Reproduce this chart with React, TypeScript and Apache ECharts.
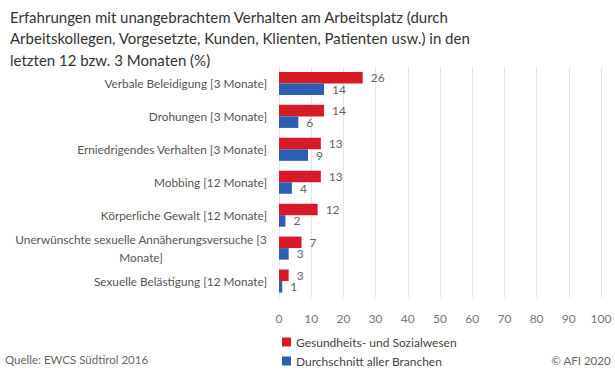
import React, { useEffect, useRef } from "react";
import * as echarts from "echarts";

const titleLines = [
  "Erfahrungen mit unangebrachtem Verhalten am Arbeitsplatz (durch",
  "Arbeitskollegen, Vorgesetzte, Kunden, Klienten, Patienten usw.) in den",
  "letzten 12 bzw. 3 Monaten (%)",
];
const categories = [
  "Verbale Beleidigung [3 Monate]",
  "Drohungen [3 Monate]",
  "Erniedrigendes Verhalten [3 Monate]",
  "Mobbing [12 Monate]",
  "Körperliche Gewalt [12 Monate]",
  "Unerwünschte sexuelle Annäherungsversuche [3\nMonate]",
  "Sexuelle Belästigung [12 Monate]",
];
const seriesNames = ["Gesundheits- und Sozialwesen", "Durchschnitt aller Branchen"];
const gesundheit = [26, 14, 13, 13, 12, 7, 3];
const durchschnitt = [14, 6, 9, 4, 2, 3, 1];
const sourceText = "Quelle: EWCS Südtirol 2016";
const creditText = "© AFI 2020";

const FONT = "Lato";
const RED = "#d61a27";
const BLUE = "#2c5fb3";

export default function App() {
  const ref = useRef<HTMLDivElement>(null);
  useEffect(() => {
    if (!ref.current) return;
    const chart = echarts.init(ref.current, undefined, { renderer: "svg" });
    chart.setOption({
      animation: false,
      textStyle: { fontFamily: FONT },
      title: {
        text: titleLines.join("\n"),
        left: 5,
        top: 1,
        textStyle: {
          fontFamily: FONT,
          fontSize: 15,
          fontWeight: "normal",
          color: "#333",
          lineHeight: 21.5,
        },
      },
      grid: { left: 279, right: 14, top: 67, bottom: 74.5, containLabel: false },
      legend: {
        orient: "vertical",
        left: 277,
        top: 333,
        height: 39,
        padding: [2, 5, 0, 5],
        itemWidth: 9,
        itemHeight: 9,
        itemGap: 5,
        icon: "rect",
        textStyle: { fontFamily: FONT, fontSize: 12, color: "#444", lineHeight: 14 },
        data: seriesNames,
      },
      graphic: [
        {
          type: "text",
          left: 5,
          top: 353,
          style: { text: sourceText, fontFamily: FONT, fontSize: 11.5, fill: "#666" },
        },
        {
          type: "text",
          right: 4,
          top: 354,
          style: { text: creditText, fontFamily: FONT, fontSize: 11.5, fill: "#666" },
        },
      ],
      xAxis: {
        type: "value",
        min: 0,
        max: 100,
        interval: 10,
        axisLine: { show: false },
        axisTick: { show: false },
        splitLine: { show: true, lineStyle: { color: "#e4e4e4", width: 1 } },
        axisLabel: { color: "#777", fontSize: 12, fontFamily: FONT, margin: 15 },
      },
      yAxis: {
        type: "category",
        inverse: true,
        data: categories,
        axisLine: { show: false },
        axisTick: { show: false },
        axisLabel: {
          color: "#555",
          fontSize: 11.8,
          fontFamily: FONT,
          margin: 12,
          lineHeight: 18,
          formatter: (v: string) =>
            v
              .split("\n")
              .map((l) => `{c|${l}}`)
              .join("\n"),
          rich: { c: { align: "center", fontSize: 11.8, fontFamily: FONT, color: "#555", lineHeight: 18 } },
        },
      },
      series: [
        {
          name: seriesNames[0],
          type: "bar",
          data: gesundheit,
          itemStyle: { color: RED },
          barGap: "0%",
          barCategoryGap: "30%",
          label: { show: true, position: "right", distance: 8, color: "#666", fontSize: 12, fontFamily: FONT },
        },
        {
          name: seriesNames[1],
          type: "bar",
          data: durchschnitt,
          itemStyle: { color: BLUE },
          barGap: "0%",
          barCategoryGap: "30%",
          label: { show: true, position: "right", distance: 8, color: "#666", fontSize: 12, fontFamily: FONT },
        },
      ],
    });
    return () => chart.dispose();
  }, []);
  return <div ref={ref} style={{ width: 615, height: 372, position: "absolute", left: 0, top: 0 }} />;
}
